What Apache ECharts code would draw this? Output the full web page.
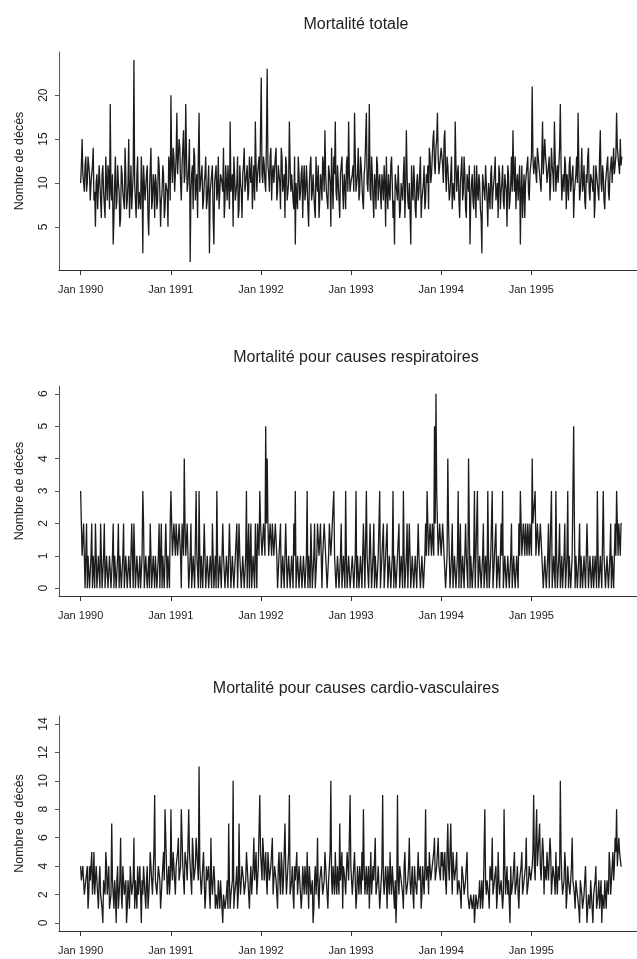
<!DOCTYPE html>
<html lang="fr">
<head>
<meta charset="UTF-8">
<title>Mortalité</title>
<script src="https://cdn.jsdelivr.net/npm/echarts@6/dist/echarts.min.js"></script>
<style>
html,body{margin:0;padding:0;background:#fff;}
#main{width:637px;height:959px;}
</style>
</head>
<body>
<div id="main"></div>
<script>
// counts read every 3 days, Jan 1990 -> Dec 1995
// "A" arrays = days 0, 6, 12 ... ; "B" arrays = days 3, 9, 15 ... (one row per year)
var totalA = [
  10,15,11,12,9,13,11,10,12,8, 5,11,7,10,6,12,9,13,8,11, 19,8,3,10,7,12,9,6,11,8, 14,7,10,6,12,9,24,8,11,7, 9,13,2,10,8,12,4,9,7,11, 6,10,8,12,5,9,11,7,10,5,12,
  20,10,13,9,18,11,14,8,12,10, 19,9,12,1,11,7,13,10,6,18, 9,12,8,11,7,10,2,9,12,3, 10,8,13,7,11,9,6,12,8,10, 17,9,5,11,8,13,7,10,6,12, 9,11,8,13,10,7,12,17,9,11,10,
  22,10,12,9,23,11,13,8,12,10, 14,9,11,7,13,10,6,12,8,17, 9,11,7,3,10,13,8,11,6,12, 9,10,5,12,8,11,7,13,9,6, 11,8,12,16,9,7,11,5,10,13, 17,8,10,6,12,9,11,7,13,17,9,
  10,12,18,9,11,8,13,10,7,12, 18,9,19,8,11,6,10,13,8,11, 7,10,12,5,9,11,8,13,6,3, 10,8,12,7,9,11,6,16,8,10, 3,9,12,7,10,8,11,6,9,12, 8,10,7,13,11,15,12,14,18,11,13,
  14,10,16,9,12,8,11,7,10,17, 9,12,6,10,8,13,7,11,9,3, 10,8,12,6,9,11,7,2,10,8, 12,5,9,11,7,10,13,8,6,11, 9,12,7,10,5,11,8,13,16,9, 7,11,8,3,12,9,6,10,13,8,11,
  21,11,13,10,14,12,9,17,11,13, 10,12,8,14,11,17,9,12,10,19, 8,11,13,7,10,12,9,11,6,10, 13,18,8,11,9,12,7,10,14,8, 11,9,6,12,10,8,16,9,11,7, 10,13,8,12,10,14,12,18,13,11,12
];
var totalB = [
  12,11,9,13,10,12,8,11,14,9, 10,7,12,8,11,9,6,10,12,7, 9,11,6,13,8,10,5,12,9,7, 11,8,15,9,7,11,10,6,13,9, 7,10,12,8,11,6,9,14,8,10, 11,7,13,9,8,12,6,10,9,13,8,
  12,14,9,13,11,15,10,12,16,11, 13,10,15,9,12,14,8,11,13,9, 11,7,10,13,8,12,9,11,6,10, 12,9,7,11,10,14,8,10,12,7, 9,11,13,8,10,6,12,9,11,14, 10,12,9,11,13,10,8,12,11,13,10,
  11,13,10,15,12,9,14,11,10,13, 8,12,10,14,9,11,13,8,10,12, 11,8,13,10,7,11,9,12,10,8, 12,7,10,13,9,11,6,10,12,8, 10,13,9,11,8,12,10,14,7,11, 9,12,8,11,13,7,10,12,9,11,10,
  11,9,13,10,14,9,12,8,11,15, 10,12,9,13,8,11,7,12,10,9, 11,8,10,13,7,9,12,10,8,11, 9,12,6,10,8,13,9,11,7,10, 12,8,10,6,11,9,13,8,10,7, 11,12,14,10,13,16,11,15,13,12,14,
  12,15,11,13,10,9,13,10,8,12, 11,8,10,13,9,11,6,10,12,8, 11,7,9,12,8,10,6,11,9,12, 8,10,7,12,9,11,8,10,12,7, 10,8,11,9,12,7,10,9,11,13, 10,8,12,9,6,11,10,12,9,11,13,
  13,12,11,14,12,10,13,11,15,12, 11,13,10,12,9,13,11,10,14,12, 10,9,12,11,8,13,10,12,9,11, 10,12,9,14,10,8,11,13,9,11, 10,12,8,11,9,13,10,12,8,10, 12,9,11,13,12,11,13,14,12,15,13
];
var respA = [
  3,1,2,0,2,1,0,1,0,1, 2,0,1,0,1,0,2,0,1,0, 1,0,2,1,0,1,0,1,0,2, 0,1,0,1,0,1,2,0,1,0, 1,0,3,0,1,0,1,2,0,1, 0,1,0,2,1,0,1,0,2,1,0,
  3,1,2,1,2,1,2,0,2,4, 1,2,0,1,0,1,0,3,1,3, 0,1,0,2,0,1,0,1,2,0, 1,3,0,1,0,2,1,0,1,0, 2,0,1,0,1,0,2,1,0,1, 0,3,1,0,2,0,1,2,0,2,3,
  2,1,2,5,4,1,2,1,2,1, 2,0,1,2,0,1,0,1,0,1, 0,1,2,3,0,1,0,1,0,1, 0,3,1,0,1,0,2,0,2,1, 2,0,1,2,1,0,2,1,2,3, 1,0,1,0,2,0,1,3,0,1,0,
  0,1,0,3,1,0,1,0,2,0, 3,1,0,1,0,2,1,0,1,3, 0,1,0,1,2,0,1,0,3,1, 0,1,2,0,1,3,0,1,0,2, 0,1,0,1,0,2,1,0,1,0, 2,3,1,2,1,2,5,6,2,1,2,
  1,2,1,0,4,1,0,2,0,1, 0,3,1,0,1,0,2,1,4,0, 1,0,3,1,3,0,1,0,2,0, 1,3,0,1,3,0,1,0,1,0, 2,3,0,1,0,1,0,2,0,1, 0,1,2,3,1,2,1,2,2,1,2,
  4,2,3,1,2,1,2,1,0,1, 0,2,1,3,0,1,3,0,1,0, 1,0,2,0,3,1,0,1,5,0, 1,0,2,1,0,1,0,2,0,1, 0,1,0,1,3,0,1,0,3,1, 0,1,0,2,1,0,2,3,1,2,2
];
var respB = [
  2,1,2,1,0,1,0,2,1,0, 1,0,1,2,0,1,0,1,0,1, 0,1,0,1,0,2,1,0,1,0, 1,0,1,0,2,0,1,0,1,0, 0,1,2,0,1,0,0,1,0,1, 1,0,1,0,2,1,0,2,0,1,2,
  2,1,2,2,1,2,1,2,1,2, 1,1,0,2,0,1,0,1,0,1, 1,0,2,0,1,0,1,0,1,0, 0,1,0,1,0,1,0,1,0,2, 0,1,0,1,2,0,1,0,1,0, 1,0,2,1,0,1,0,1,2,1,2,
  1,2,1,2,2,1,2,2,1,2, 1,0,1,0,1,0,2,0,1,0, 1,0,1,0,1,0,1,0,1,0, 1,0,1,2,0,1,0,1,2,1, 2,1,2,1,0,1,2,1,2,1, 0,1,0,1,0,1,0,1,0,1,0,
  1,0,1,0,1,0,1,0,1,0, 1,0,2,0,1,0,1,0,1,0, 1,2,0,1,0,1,0,1,0,1, 0,1,0,1,0,1,0,2,0,1, 0,1,0,1,0,1,0,1,0,1, 1,2,1,2,2,1,2,3,1,2,1,
  2,1,0,1,2,0,1,0,1,0, 1,0,2,0,1,0,1,0,2,1, 0,1,0,1,0,1,0,1,0,1, 0,1,0,1,0,1,2,0,1,0, 1,0,1,0,1,0,1,0,1,0, 1,0,1,2,1,2,2,1,2,2,1,
  2,2,1,2,1,2,1,0,1,0, 1,0,1,0,1,0,1,0,2,0, 0,1,0,1,0,1,0,1,2,1, 0,1,0,1,0,1,0,1,0,1, 0,0,1,0,1,0,1,0,1,0, 1,0,1,0,1,0,1,2,2,1,2
];
var cardioA = [
  4,3,4,2,3,1,4,3,2,5, 2,3,1,4,2,0,3,5,2,4, 1,7,2,3,0,4,2,6,1,3, 2,0,3,1,4,2,6,3,1,2, 4,0,2,3,1,4,2,5,3,2, 9,3,2,4,1,3,5,8,4,3,2,
  8,3,5,2,4,6,3,8,4,2, 5,3,8,4,2,5,3,6,4,11, 3,2,5,1,4,3,2,6,2,4, 1,2,3,1,2,0,2,1,3,7, 1,2,10,2,3,1,7,2,4,3, 2,5,3,1,4,2,6,3,2,4,9,
  4,6,3,5,2,4,3,5,2,4, 3,1,5,2,4,3,7,2,3,9, 2,4,1,3,5,2,3,1,4,2, 3,5,1,4,2,0,3,2,6,1, 3,4,2,5,3,1,4,10,2,3, 5,2,4,7,3,1,4,2,5,3,9,
  3,2,5,1,4,2,3,5,8,2, 4,3,1,5,2,3,6,2,4,1, 3,9,2,4,1,3,5,2,3,1, 0,9,2,4,3,1,5,2,3,6, 2,4,1,3,2,5,3,1,4,2, 8,3,2,5,3,4,6,3,5,4,3,
  4,3,5,2,7,3,7,2,4,3, 5,2,3,1,4,2,3,5,2,1, 2,1,0,2,1,2,1,3,2,8, 2,3,1,4,6,2,3,1,5,2, 3,1,8,2,4,3,0,2,3,5, 2,4,1,3,5,2,3,6,2,4,3,
  4,9,3,8,5,7,3,6,2,4, 5,3,6,2,4,3,5,2,4,10, 3,2,5,1,4,3,2,6,3,1, 3,2,0,3,1,2,4,0,2,1, 3,0,2,4,1,3,2,0,2,3, 1,3,5,2,4,3,6,8,4,5,4
];
var cardioB = [
  3,4,2,3,4,2,3,5,3,2, 4,2,3,2,1,3,2,4,3,1, 2,3,1,2,3,1,3,2,4,2, 3,1,2,4,2,3,1,2,4,3, 2,3,4,2,3,1,3,4,2,5, 3,2,4,3,2,4,3,6,2,4,3,
  4,5,3,4,5,3,4,6,3,5, 4,3,5,4,6,3,4,5,3,4, 2,4,3,2,3,4,1,3,2,3, 2,1,2,3,1,2,1,2,1,3, 2,3,1,2,4,2,3,2,4,2, 3,4,2,3,2,4,3,5,3,4,5,
  3,5,4,3,5,3,4,6,3,4, 2,4,3,5,2,3,4,3,5,2, 3,2,4,3,2,4,3,2,3,4, 2,3,4,2,3,1,4,3,2,3, 4,2,3,4,2,3,5,3,4,2, 3,4,2,3,5,4,3,2,4,3,4,
  2,4,3,2,3,4,2,3,4,3, 2,4,3,2,4,3,2,3,4,2, 4,3,2,3,4,2,3,4,2,3, 2,3,4,3,2,4,3,2,4,3, 3,2,4,3,2,3,4,2,3,4, 3,4,5,3,4,5,3,4,6,4,5,
  5,4,3,5,4,3,4,5,3,4, 2,3,2,4,3,2,3,2,1,2, 1,2,1,2,1,3,2,1,2,3, 3,2,4,3,2,3,4,2,3,2, 3,2,4,3,2,3,4,2,3,2, 3,2,3,4,2,3,4,2,3,4,3,
  5,4,6,4,5,4,3,5,4,3, 4,3,5,3,4,2,3,4,3,5, 2,3,4,2,3,2,4,3,2,3, 2,1,3,2,1,3,2,1,2,3, 1,2,3,1,2,1,3,2,1,2, 3,2,4,3,5,4,5,4,6,5,4
];
var stepDays = 6;
var yearTicks = [1990, 1991, 1992, 1993, 1994, 1995];
var yearLabels = ['Jan 1990', 'Jan 1991', 'Jan 1992', 'Jan 1993', 'Jan 1994', 'Jan 1995'];
var titles = ['Mortalité totale', 'Mortalité pour causes respiratoires', 'Mortalité pour causes cardio-vasculaires'];
var yTicksTotal = [5, 10, 15, 20];
var yTicksResp = [0, 1, 2, 3, 4, 5, 6];
var yTicksCardio = [0, 2, 4, 6, 8, 10, 12, 14];

var panels = [
  {a: totalA,  b: totalB,  ticks: yTicksTotal,  ymin: 0.08,  ymax: 24.92, top: 52,  height: 218, titleTop: 12},
  {a: respA,   b: respB,   ticks: yTicksResp,   ymin: -0.24, ymax: 6.24,  top: 386, height: 210, titleTop: 345},
  {a: cardioA, b: cardioB, ticks: yTicksCardio, ymin: -0.56, ymax: 14.56, top: 716, height: 215, titleTop: 676}
];

// interleave the two readings in date order
function toPairs(a, b) {
  var out = [];
  for (var i = 0; i < a.length; i++) {
    out.push([1990 + i * stepDays / 365.25, a[i]]);
    if (b[i] !== undefined) out.push([1990 + (i * stepDays + 3) / 365.25, b[i]]);
  }
  return out;
}

var myChart = echarts.init(document.getElementById('main'));
var font = 'Liberation Sans, Arial, sans-serif';
var option = {
  animation: false,
  backgroundColor: '#fff',
  title: [], grid: [], xAxis: [], yAxis: [], series: []
};

panels.forEach(function (p, k) {
  option.title.push({
    text: titles[k], left: 351, top: p.titleTop, textAlign: 'center',
    textStyle: {fontFamily: font, fontSize: 16, fontWeight: 'normal', color: '#222'}
  });
  option.grid.push({left: 59, right: 0, top: p.top, height: p.height});
  option.xAxis.push({
    type: 'value', gridIndex: k, min: 1989.76, max: 1996.173,
    splitLine: {show: false},
    axisLine: {show: true, onZero: false, lineStyle: {color: '#333', width: 1}},
    axisTick: {show: true, customValues: yearTicks, length: 5, lineStyle: {color: '#333'}},
    axisLabel: {
      customValues: yearTicks, margin: 14, fontFamily: font, fontSize: 11, color: '#222',
      formatter: function (v) { return yearLabels[yearTicks.indexOf(Math.round(v))] || ''; }
    }
  });
  option.yAxis.push({
    type: 'value', gridIndex: k, min: p.ymin, max: p.ymax,
    name: 'Nombre de décès', nameLocation: 'middle', nameGap: 33,
    nameTextStyle: {fontFamily: font, fontSize: 12.5, color: '#222'},
    splitLine: {show: false},
    axisLine: {show: true, lineStyle: {color: '#555', width: 1}},
    axisTick: {show: true, customValues: p.ticks, length: 4, lineStyle: {color: '#555'}},
    axisLabel: {customValues: p.ticks, rotate: 90, margin: 9, fontFamily: font, fontSize: 12, color: '#222'}
  });
  option.series.push({
    type: 'line', xAxisIndex: k, yAxisIndex: k,
    data: toPairs(p.a, p.b),
    symbol: 'none', silent: true,
    lineStyle: {color: '#1c1c1c', width: 1.3}
  });
});

myChart.setOption(option);
</script>
</body>
</html>
